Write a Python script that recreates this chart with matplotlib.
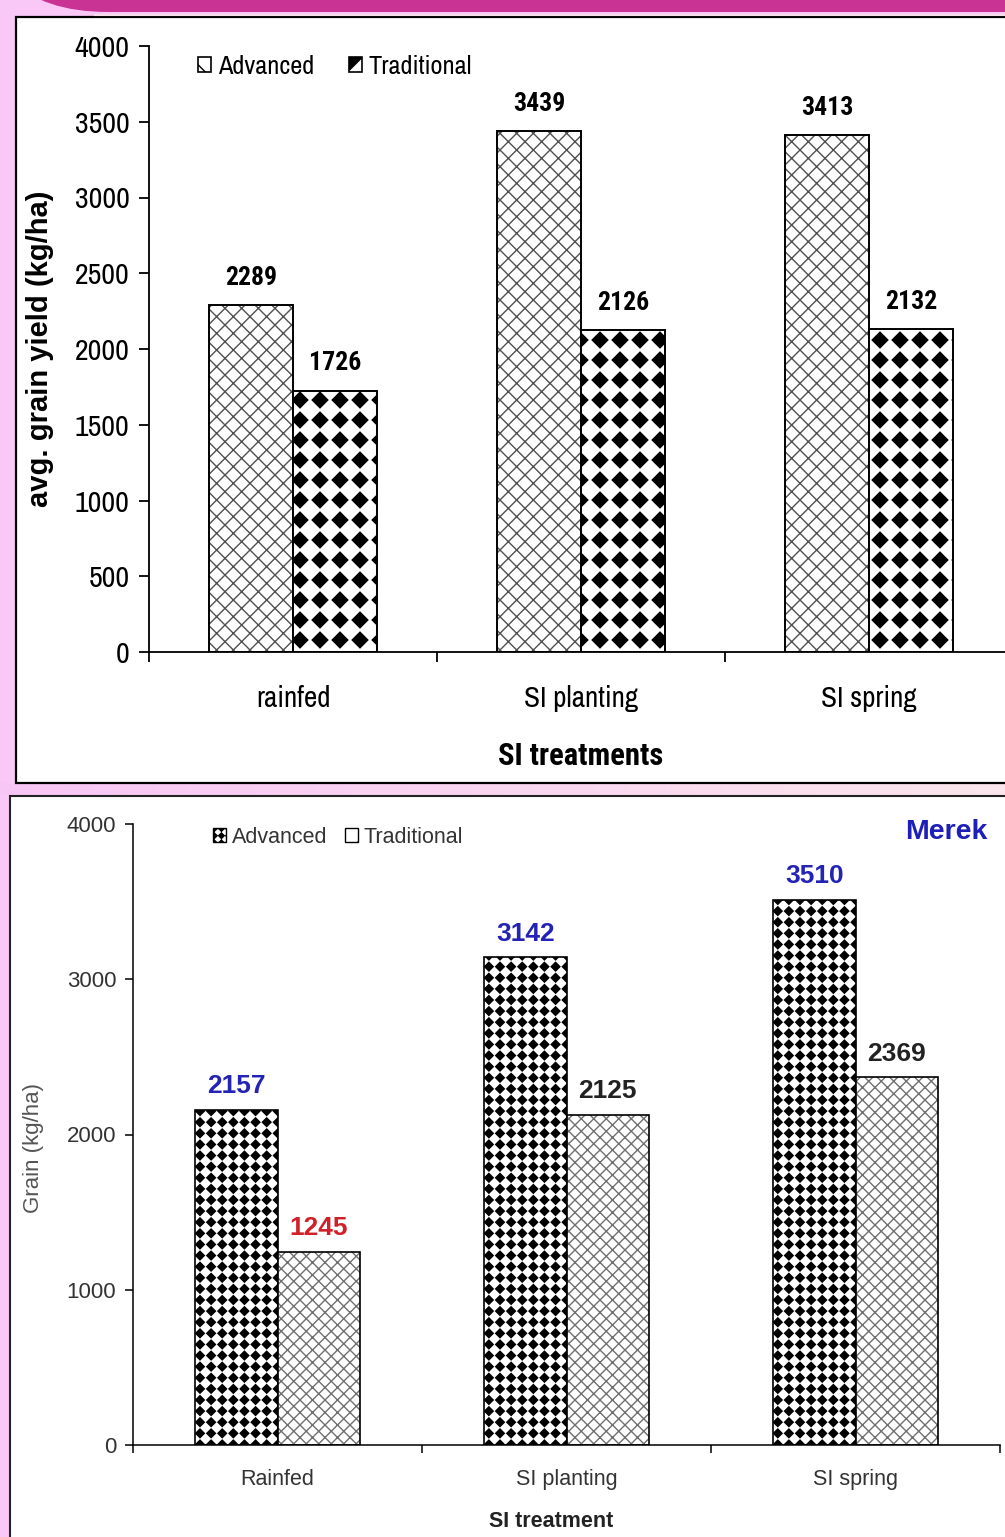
import numpy as np
import matplotlib
matplotlib.use("Agg")
import matplotlib.pyplot as plt
from matplotlib import hatch as mhatch
from matplotlib.path import Path
from matplotlib.patches import Patch, Rectangle, FancyBboxPatch
from matplotlib.ticker import MultipleLocator, FixedLocator

# --- data -----------------------------------------------------------------
treatments_top = ["rainfed", "SI planting", "SI spring"]
advanced_top = [2289, 3439, 3413]
traditional_top = [1726, 2126, 2132]

treatments_merek = ["Rainfed", "SI planting", "SI spring"]
advanced_merek = [2157, 3142, 3510]
traditional_merek = [1245, 2125, 2369]
advanced_merek_colors = ["#2323B5", "#2323B5", "#2323B5"]
traditional_merek_colors = ["#D0202A", "#222222", "#222222"]

W, H, DPI = 1005, 1537, 100
NARROW = ["Archivo Narrow", "Liberation Sans", "DejaVu Sans"]
NARROW_BOLD = ["Roboto Condensed", "Asap Condensed", "Liberation Sans", "DejaVu Sans"]
ARIAL = ["Liberation Sans", "DejaVu Sans"]


# --- extra hatch patterns ---------------------------------------------------
class DiamondGrid(mhatch.HatchPatternBase):
    """Filled diamonds on a square grid, one per '*' in the hatch string."""
    half = 0.39

    def __init__(self, hatch, density):
        self.num_rows = hatch.count("*")
        self.num_vertices = (self.num_rows + 1) ** 2 * 5 if self.num_rows else 0

    def set_vertices_and_codes(self, vertices, codes):
        step = 1.0 / self.num_rows
        h = self.half * step
        shape = np.array([[0, -h], [h, 0], [0, h], [-h, 0], [0, -h]])
        shape_codes = [Path.MOVETO, Path.LINETO, Path.LINETO, Path.LINETO, Path.CLOSEPOLY]
        centres = np.arange(self.num_rows + 1) * step
        parts = [shape + [cx, cy] for cy in centres for cx in centres]
        vertices[:] = np.concatenate(parts)
        codes[:] = np.tile(shape_codes, len(parts))


class FineCross(mhatch.HatchPatternBase):
    """Diagonal cross-hatch with one line pair per 'O' in the hatch string."""

    def __init__(self, hatch, density):
        self.k = hatch.count("O")
        self.num_vertices = (2 * self.k + 1) * 4 if self.k else 0

    def set_vertices_and_codes(self, vertices, codes):
        k = self.k
        n = 2 * k + 1
        ne = np.arange(-k, k + 1) / k
        se = np.arange(0, 2 * k + 1) / k
        vertices[0:2 * n:2] = np.column_stack([ne, np.zeros(n)])
        vertices[1:2 * n:2] = np.column_stack([ne + 1, np.ones(n)])
        vertices[2 * n::2] = np.column_stack([se, np.zeros(n)])
        vertices[2 * n + 1::2] = np.column_stack([se - 1, np.ones(n)])
        codes[0::2] = Path.MOVETO
        codes[1::2] = Path.LINETO


mhatch._hatch_types[:] = [t for t in mhatch._hatch_types
                          if t not in (mhatch.Stars, mhatch.LargeCircles)]
mhatch._hatch_types += [DiamondGrid, FineCross]

plt.rcParams["hatch.linewidth"] = 1.0


def px_box(x0, y0, x1, y1):
    """Axes rectangle from pixel edges (y measured from the top)."""
    return [x0 / W, 1 - y1 / H, (x1 - x0) / W, (y1 - y0) / H]


fig = plt.figure(figsize=(W / DPI, H / DPI), dpi=DPI, facecolor="#F9C8F7")

# backdrop: banner, panels
bg = fig.add_axes([0, 0, 1, 1], zorder=-1)
bg.add_patch(FancyBboxPatch((-22, -300), 1300, 312,
                            boxstyle="round,pad=0,rounding_size=130",
                            facecolor="#C93394", edgecolor="none"))
bg.plot([95, W], [14.5, 14.5], color="#F6DDEA", lw=1.5)
grad = np.linspace(0, 1, 256)[None, :]
bg.imshow(grad, extent=(0, W, 795, 783), aspect="auto",
          cmap=matplotlib.colors.LinearSegmentedColormap.from_list("p", ["#F8C6F5", "#FBE6EC"]))
bg.add_patch(Rectangle((16, 17), 1200, 766, facecolor="white",
                       edgecolor="black", lw=1.6))
bg.add_patch(Rectangle((10, 796), 1200, 900, facecolor="white",
                       edgecolor="#222222", lw=1.5))
bg.set_xlim(0, W)
bg.set_ylim(H, 0)
bg.axis("off")


def style_axes(ax, n, tick_len, spine_w):
    for side in ("top", "right"):
        ax.spines[side].set_visible(False)
    for side in ("left", "bottom"):
        ax.spines[side].set_linewidth(spine_w)
    ax.set_facecolor("none")
    ax.set_xlim(-0.5, n - 0.5)
    ax.set_xticks(range(n))
    ax.xaxis.set_minor_locator(FixedLocator(np.arange(n + 1) - 0.5))
    ax.tick_params(axis="x", which="major", length=0)
    ax.tick_params(axis="x", which="minor", length=tick_len, width=spine_w, direction="out")
    ax.tick_params(axis="y", which="major", length=tick_len, width=spine_w, direction="out")


# --- upper chart --------------------------------------------------------------
ax1 = fig.add_axes(px_box(149, 46, 1013, 652))
x1 = np.arange(len(treatments_top))
w1 = 0.29
ax1.bar(x1 - w1, advanced_top, w1, align="edge", facecolor="white",
        edgecolor="#505050", linewidth=0, hatch="OOOOOO")
ax1.bar(x1 - w1, advanced_top, w1, align="edge", fill=False,
        edgecolor="black", linewidth=1.4)
ax1.bar(x1, traditional_top, w1, align="edge", facecolor="white",
        edgecolor="black", linewidth=1.4, hatch="*****")
for xi, v in zip(x1 - w1 / 2, advanced_top):
    ax1.annotate(f"{v}", (xi, v), xytext=(0, 14.5), textcoords="offset points",
                 ha="center", va="baseline", fontsize=18.5, fontweight="bold",
                 family=NARROW_BOLD)
for xi, v in zip(x1 + w1 / 2, traditional_top):
    ax1.annotate(f"{v}", (xi, v), xytext=(0, 14.5), textcoords="offset points",
                 ha="center", va="baseline", fontsize=18.5, fontweight="bold",
                 family=NARROW_BOLD)

style_axes(ax1, len(treatments_top), 7, 1.3)
ax1.set_ylim(0, 4000)
ax1.yaxis.set_major_locator(MultipleLocator(500))
ax1.set_xticklabels(treatments_top, family=NARROW, fontsize=21)
ax1.tick_params(axis="x", which="major", pad=24)
ax1.tick_params(axis="y", pad=7)
for lab in ax1.get_yticklabels():
    lab.set_family(NARROW)
    lab.set_fontsize(21.5)
ax1.set_xlabel("SI treatments", family=NARROW_BOLD, fontsize=22, fontweight="bold")
ax1.xaxis.set_label_coords(0.5, -0.147)
ax1.set_ylabel("avg. grain yield (kg/ha)", family=ARIAL, fontsize=21, fontweight="bold")
ax1.yaxis.label.set_va("center")
ax1.yaxis.set_label_coords(-0.126, 0.5)

leg1_handles = [Patch(facecolor="white", edgecolor="black", hatch="\\", lw=1.2),
                Patch(facecolor="white", edgecolor="black", hatch="**", lw=1.2)]
fig.legend(leg1_handles, ["Advanced", "Traditional"], loc="center left",
           bbox_to_anchor=(198 / W, 1 - 66 / H), ncol=2, frameon=False,
           prop={"family": NARROW, "size": 19}, borderpad=0, borderaxespad=0,
           handlelength=0.5, handleheight=0.5, handletextpad=0.27,
           columnspacing=1.29)

# --- Merek chart --------------------------------------------------------------
ax2 = fig.add_axes(px_box(133, 824, 1000, 1445))
x2 = np.arange(len(treatments_merek))
w2 = 0.286
ax2.bar(x2 - w2, advanced_merek, w2, align="edge", facecolor="white",
        edgecolor="black", linewidth=1.2, hatch="*********")
ax2.bar(x2, traditional_merek, w2, align="edge", facecolor="white",
        edgecolor="#707070", linewidth=0, hatch="OOOOOOOO")
ax2.bar(x2, traditional_merek, w2, align="edge", fill=False,
        edgecolor="black", linewidth=1.2)
for xi, v, c in zip(x2 - w2 / 2, advanced_merek, advanced_merek_colors):
    ax2.annotate(f"{v}", (xi, v), xytext=(0, 12), textcoords="offset points",
                 ha="center", va="baseline", fontsize=19, fontweight="bold",
                 family=ARIAL, color=c)
for xi, v, c in zip(x2 + w2 / 2, traditional_merek, traditional_merek_colors):
    ax2.annotate(f"{v}", (xi, v), xytext=(0, 12), textcoords="offset points",
                 ha="center", va="baseline", fontsize=19, fontweight="bold",
                 family=ARIAL, color=c)

style_axes(ax2, len(treatments_merek), 6, 1.1)
ax2.set_ylim(0, 4000)
ax2.yaxis.set_major_locator(MultipleLocator(1000))
ax2.set_xticklabels(treatments_merek, family=ARIAL, fontsize=15.5, color="#333333")
ax2.tick_params(axis="x", which="major", pad=17)
ax2.tick_params(axis="y", pad=6, labelcolor="#333333")
for lab in ax2.get_yticklabels():
    lab.set_family(ARIAL)
    lab.set_fontsize(16)
ax2.set_xlabel("SI treatment", family=ARIAL, fontsize=15.5, fontweight="bold", color="#222222")
ax2.xaxis.set_label_coords(0.482, -0.106)
ax2.set_ylabel("Grain (kg/ha)", family=ARIAL, fontsize=16, color="#555555")
ax2.yaxis.label.set_va("center")
ax2.yaxis.set_label_coords(-0.115, 0.478)

leg2_handles = [Patch(facecolor="white", edgecolor="black", hatch="*" * 14, lw=1.0),
                Patch(facecolor="white", edgecolor="black", hatch="x", lw=1.0)]
fig.legend(leg2_handles, ["Advanced", "Traditional"], loc="center left",
           bbox_to_anchor=(213 / W, 1 - 837 / H), ncol=2, frameon=False,
           prop={"family": ARIAL, "size": 15.5}, labelcolor="#333333",
           borderpad=0, borderaxespad=0, handlelength=0.6, handleheight=0.6,
           handletextpad=0.28, columnspacing=0.8)

fig.text(987 / W, 1 - 832 / H, "Merek", ha="right", va="center", fontsize=20.5,
         fontweight="bold", color="#1E1EB8", family=ARIAL)

fig.savefig("out.png", dpi=DPI, facecolor=fig.get_facecolor())
